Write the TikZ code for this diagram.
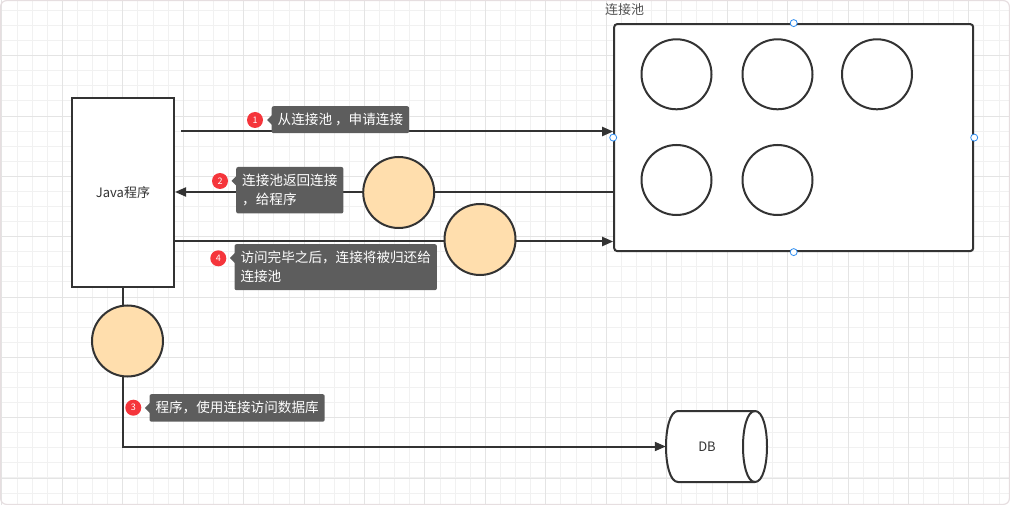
\documentclass[tikz,border=0pt]{standalone}
\usepackage{fontspec}
\setmainfont{Noto Sans CJK SC}
\usetikzlibrary{arrows.meta}
\definecolor{ink}{HTML}{333333}
\definecolor{gridminor}{HTML}{F1F1F1}
\definecolor{gridmajor}{HTML}{E4E4E4}
\definecolor{lblgray}{HTML}{5D5D5D}
\definecolor{peach}{HTML}{FFDEAD}
\definecolor{badgered}{HTML}{F5353B}
\definecolor{handleblue}{HTML}{2D8CF0}
\definecolor{framecol}{HTML}{E6DEE0}
\begin{document}
\begin{tikzpicture}[x=1pt,y=-1pt,
  txt/.style={font=\fontsize{13}{19}\selectfont},
  ltxt/.style={font=\fontsize{13.6}{19}\selectfont},
  line/.style={draw=ink,line width=2pt},
  arr/.style={line,-{Triangle[length=11pt,width=9pt]}},
  box/.style={line,fill=white,inner sep=0pt,txt,text=ink},
  ring/.style={circle,line,fill=white,minimum size=70pt,inner sep=0pt},
  conn/.style={circle,line,fill=peach,minimum size=71pt,inner sep=0pt},
  lbl/.style={fill=lblgray,rounded corners=2pt,text=white,ltxt,inner xsep=6pt,inner ysep=0pt,anchor=north west,align=left},
  badge/.style={circle,fill=badgered,text=white,minimum size=16pt,inner sep=0pt,font=\fontsize{9}{9}\selectfont},
  handle/.style={circle,draw=handleblue,fill=white,line width=0.8pt,minimum size=7pt,inner sep=0pt},
  pointer/.style={fill=lblgray}
]
\useasboundingbox (0,0) rectangle (1010,505);
% grid
\foreach \i in {0,...,66} \draw[gridminor,line width=0.8pt] ({1.87+15.108*\i},0) -- ({1.87+15.108*\i},505);
\foreach \i in {0,...,33} \draw[gridminor,line width=0.8pt] (0,{10.4+15.08*\i}) -- (1010,{10.4+15.08*\i});
\foreach \i in {0,...,16} \draw[gridmajor,line width=0.8pt] ({1.87+60.432*\i},0) -- ({1.87+60.432*\i},505);
\foreach \i in {0,...,7} \draw[gridmajor,line width=0.8pt] (0,{55.7+60.32*\i}) -- (1010,{55.7+60.32*\i});
\draw[framecol,line width=1.2pt,rounded corners=6pt] (0.6,0.6) rectangle (1009.4,504.4);

% pool
\node[txt,text=ink!85,anchor=west,inner sep=0pt] (poollbl) at (605,10) {连接池};
\node[line,fill=white,rounded corners=3pt,minimum width=359pt,minimum height=227pt,inner sep=0pt] (pool) at (793.7,137.6) {};
\node[ring] (r1) at (676.5,74.3) {};
\node[ring] (r2) at (777.5,74.3) {};
\node[ring] (r3) at (877,74.3) {};
\node[ring] (r4) at (676.5,180) {};
\node[ring] (r5) at (777.5,180) {};

% java
\node[box,minimum width=102pt,minimum height=189pt] (java) at (123,192.5) {Java程序};

% connectors
\coordinate (s1) at (181,131.5);
\coordinate (y2) at (0,192);
\coordinate (y4) at (0,241.5);
\draw[arr] (s1) -- (s1 -| pool.west);
\draw[arr] (pool.west |- y2) -- (java.east |- y2);
\draw[arr] (java.east |- y4) -- (pool.west |- y4);

% DB
\draw[line,fill=white] (678,411) -- (755,411) .. controls (771,411) and (771,482) .. (755,482) -- (678,482) .. controls (662,482) and (662,411) .. (678,411) -- cycle;
\draw[line] (755,411) .. controls (739,411) and (739,482) .. (755,482);
\node[txt,text=ink,minimum width=82pt,minimum height=71pt,inner sep=0pt] (db) at (707,446.5) {DB};
\draw[arr] (java.south) -- (java.south |- db.west) -- (db.west);

% moving connections
\node[conn] (c2) at (398.7,192.5) {};
\node[conn] (c4) at (480,239.5) {};
\node[conn] (c3) at (127.5,341) {};

% labels
\node[lbl,minimum height=27pt] (t1) at (271.5,106) {从连接池 ，申请连接};
\fill[pointer] (t1.north west) ++(0.5,9) -- ++(-5,5) -- ++(5,5) -- cycle;
\node[badge] (b1) at (255,120) {1};

\node[lbl,minimum height=46.5pt] (t2) at (236,166.8) {连接池返回连接\\，给程序};
\fill[pointer] (t2.north west) ++(0.5,9) -- ++(-5,5) -- ++(5,5) -- cycle;
\node[badge] (b2) at (220,181) {2};

\node[lbl,minimum height=46pt] (t4) at (234.3,244) {访问完毕之后，连接将被归还给\\连接池};
\fill[pointer] (t4.north west) ++(0.5,9) -- ++(-5,5) -- ++(5,5) -- cycle;
\node[badge] (b4) at (218.3,258.3) {4};

\node[lbl,minimum height=27.5pt] (t3) at (149.3,394) {程序，使用连接访问数据库};
\fill[pointer] (t3.north west) ++(0.5,9) -- ++(-5,5) -- ++(5,5) -- cycle;
\node[badge] (b3) at (133.3,407.7) {3};

% handles
\node[handle] (h1) at (pool.north) {};
\node[handle] (h2) at (pool.west) {};
\node[handle] (h3) at (pool.east) {};
\node[handle] (h4) at (pool.south) {};
\end{tikzpicture}
\end{document}
